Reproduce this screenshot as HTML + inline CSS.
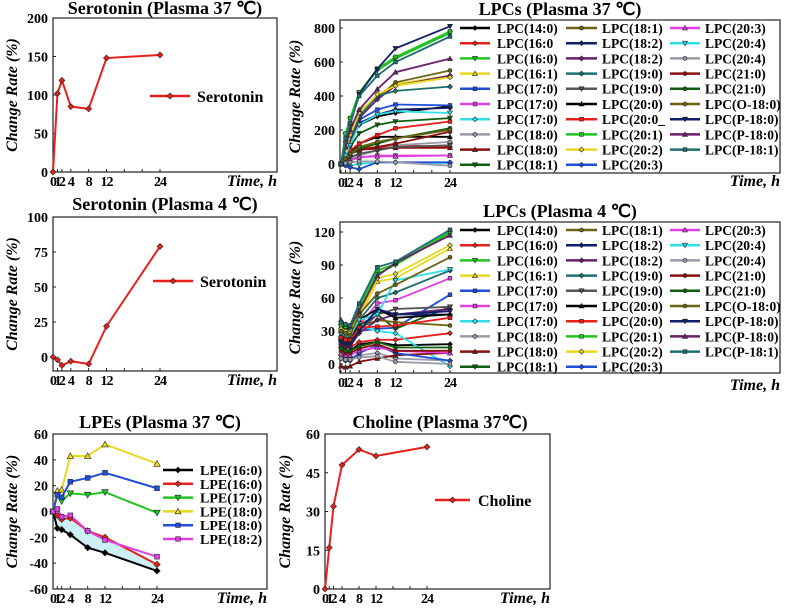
<!DOCTYPE html>
<html><head><meta charset="utf-8">
<style>
html,body{margin:0;padding:0;background:#fff;}
svg{display:block;font-family:"Liberation Serif",serif;font-weight:bold;}
</style></head>
<body>
<svg id="fig" width="787" height="608" viewBox="0 0 787 608" xmlns="http://www.w3.org/2000/svg"></svg>
<script>
// ---- shared data ----
const times = [0,1,2,4,8,12,24];
const xTickLabels = ["0","1","2","4","8","12","24"];
// Serotonin 37
const ser37Values = [0,102,119,85,82,148,152];
const ser37Ticks = [0,50,100,150,200];
// Serotonin 4
const ser4Values = [0,-2,-6,-3,-5,22,79];
const ser4Ticks = [0,25,50,75,100];
// Choline
const cholValues = [0,16,32,48,54,51.5,55];
const cholTicks = [0,15,30,45,60];
// LPEs
const lpeNames = ["LPE(16:0)","LPE(16:0)","LPE(17:0)","LPE(18:0)","LPE(18:0)","LPE(18:2)"];
const lpeColors = ["#000","#e8201c","#22c422","#e8d820","#1f4fd8","#e040e0"];
const lpeMarkers = ["diamond","diamond","dtri","tri","square","square"];
const lpeValues = [
 [0,-13,-14,-18,-28,-32,-46],
 [0,-3,-6,-5,-15,-20,-41],
 [0,13,8,14,13,15,-1],
 [0,16,17,43,43,52,37],
 [0,13,11,23,26,30,18],
 [0,2,-4,-3,-15,-22,-35]
];
const lpeTicks = [-60,-40,-20,0,20,40,60];
// LPCs
const lpcNames37 = ["LPC(14:0)","LPC(16:0","LPC(16:0)","LPC(16:1)","LPC(17:0)","LPC(17:0)","LPC(17:0)","LPC(18:0)","LPC(18:0)","LPC(18:1)",
 "LPC(18:1)","LPC(18:2)","LPC(18:2)","LPC(19:0)","LPC(19:0)","LPC(20:0)","LPC(20:0_","LPC(20:1)","LPC(20:2)","LPC(20:3)",
 "LPC(20:3)","LPC(20:4)","LPC(20:4)","LPC(21:0)","LPC(21:0)","LPC(O-18:0)","LPC(P-18:0)","LPC(P-18:0)","LPC(P-18:1)"];
const lpcNames4 = ["LPC(14:0)","LPC(16:0)","LPC(16:0)","LPC(16:1)","LPC(17:0)","LPC(17:0)","LPC(17:0)","LPC(18:0)","LPC(18:0)","LPC(18:1)",
 "LPC(18:1)","LPC(18:2)","LPC(18:2)","LPC(19:0)","LPC(19:0)","LPC(20:0)","LPC(20:0)","LPC(20:1)","LPC(20:2)","LPC(20:3)",
 "LPC(20:3)","LPC(20:4)","LPC(20:4)","LPC(21:0)","LPC(21:0)","LPC(O-18:0)","LPC(P-18:0)","LPC(P-18:0)","LPC(P-18:1)"];
const lpcColors = ["#000","#e8201c","#22c422","#e8d820","#1f4fd8","#e040e0","#30e0e8","#9a9aa8","#8b0f0f","#0f5f0f",
 "#6b6414","#0f1f6b","#6b206b","#1f6f70","#555","#000","#e8201c","#22c422","#e8d820","#1f4fd8",
 "#e040e0","#30e0e8","#9a9aa8","#8b0f0f","#0f5f0f","#6b6414","#0f1f6b","#6b206b","#1f6f70"];
const lpcMarkers = ["diamond","diamond","dtri","tri","square","square","diamond","diamond","tri","dtri",
 "circle","diamond","diamond","diamond","dtri","tri","square","square","diamond","diamond",
 "tri","dtri","circle","circle","circle","circle","dtri","tri","square"];
const lpc37Values = [
 [0,50,120,230,280,300,340],[0,40,70,90,100,110,100],[0,170,260,420,550,620,770],[0,80,160,290,400,470,520],
 [0,60,140,260,320,350,345],[0,10,20,40,50,50,50],[0,0,-10,0,10,10,5],[0,15,30,50,80,110,130],
 [0,30,60,85,90,95,95],[0,40,100,180,230,250,270],
 [0,90,180,310,390,480,550],[0,50,110,240,290,320,330],[0,60,120,270,380,460,520],[0,70,150,280,400,430,455],
 [0,20,40,60,80,100,110],[0,30,60,120,160,160,160],[0,40,80,120,170,210,250],[0,180,270,420,560,630,780],
 [0,80,170,300,410,460,510],[0,-10,-20,-30,10,10,10],
 [0,10,20,40,45,45,50],[0,50,110,230,290,310,300],[0,5,10,15,15,10,-10],[0,30,60,80,100,120,190],
 [0,30,60,90,120,150,210],[0,30,60,100,130,150,200],[0,120,230,410,560,680,810],[0,100,200,320,440,540,620],
 [0,150,240,400,520,600,750]
];
const lpc37Ticks = [0,200,400,600,800];
const lpc4Values = [
 [15,12,12,18,20,17,18],[15,15,15,20,22,22,28],[34,32,30,50,82,90,119],[30,28,27,42,75,78,105],
 [18,16,16,30,32,33,63],[22,20,20,35,55,58,78],[20,20,30,35,30,28,-2],[8,6,6,8,10,5,3],
 [-2,-3,-2,2,5,8,10],[20,18,18,35,45,32,52],
 [25,24,23,33,40,38,35],[22,20,18,30,48,45,45],[18,16,16,28,40,45,50],[25,22,22,40,60,65,85],
 [20,18,18,30,45,50,52],[25,22,20,40,50,42,45],[24,22,22,33,34,35,42],[35,34,33,52,85,91,120],
 [32,30,28,45,78,82,108],[5,3,3,10,17,10,3],
 [10,8,8,12,15,12,10],[28,26,25,40,45,76,86],[5,4,4,6,7,2,0],[12,10,10,14,18,12,12],
 [14,12,12,16,20,15,15],[30,28,26,45,64,72,97],[20,18,18,30,50,45,48],[40,36,34,48,80,92,117],
 [38,36,35,55,88,93,122]
];
const lpc4Ticks = [0,30,60,90,120];

// ---- drawing helpers ----
const NS = "http://www.w3.org/2000/svg";
const svg = document.getElementById("fig");
function el(tag, attrs, parent){
  const e = document.createElementNS(NS, tag);
  for (const k in attrs) e.setAttribute(k, attrs[k]);
  (parent||svg).appendChild(e);
  return e;
}
function marker(g, type, cx, cy, color, s){
  let m;
  if (type==="circle") m = el("circle",{cx:cx,cy:cy,r:s*0.8},g);
  else if (type==="square") m = el("rect",{x:cx-s*0.75,y:cy-s*0.75,width:s*1.5,height:s*1.5},g);
  else if (type==="tri") m = el("polygon",{points:`${cx},${cy-s} ${cx-s},${cy+s*0.8} ${cx+s},${cy+s*0.8}`},g);
  else if (type==="dtri") m = el("polygon",{points:`${cx},${cy+s} ${cx-s},${cy-s*0.8} ${cx+s},${cy-s*0.8}`},g);
  else m = el("polygon",{points:`${cx},${cy-s} ${cx+s},${cy} ${cx},${cy+s} ${cx-s},${cy}`},g);
  m.setAttribute("fill", color);
  m.setAttribute("stroke", "#222");
  m.setAttribute("stroke-width", "0.6");
  
  
}
function panel(cfg){
  const g = el("g",{});
  
  
  const xs = t => cfg.x0 + t*(cfg.x24-cfg.x0)/24;
  const ys = v => cfg.yA + (v-cfg.vA)*(cfg.yB-cfg.yA)/(cfg.vB-cfg.vA);
  cfg.xs = xs; cfg.ys = ys;
  const t = el("text",{x:cfg.titleX,y:cfg.titleY,"text-anchor":"middle","font-size":18},g);
  t.textContent = cfg.title;
  
  
  const b = el("rect",{x:cfg.L,y:cfg.T,width:cfg.R-cfg.L,height:cfg.B-cfg.T,fill:"none",stroke:"#222","stroke-width":1.2},g);
  
  
  cfg.yTicks.forEach(v=>{
    const y = ys(v);
    el("line",{x1:cfg.L,x2:cfg.L+3,y1:y,y2:y,stroke:"#222"},g);
    const tx = el("text",{x:cfg.L-5,y:y+5,"text-anchor":"end","font-size":14},g);
    tx.textContent = v;
    
    
  });
  times.forEach((tm,i)=>{
    const x = xs(tm);
    el("line",{x1:x,x2:x,y1:cfg.B,y2:cfg.B-3,stroke:"#222"},g);
    const tx = el("text",{x:x,y:cfg.B+14,"text-anchor":"middle","font-size":14,"letter-spacing":"-1"},g);
    tx.textContent = xTickLabels[i];
    
    
  });
  [16,20].forEach(tm=>{ const x=xs(tm); el("line",{x1:x,x2:x,y1:cfg.B,y2:cfg.B-3,stroke:"#222"},g); });
  const yt = el("text",{transform:`translate(${cfg.yLabX},${(cfg.T+cfg.B)/2}) rotate(-90)`,"text-anchor":"middle","font-size":16,"font-style":"italic"},g);
  yt.textContent = "Change Rate (%)";
  
  
  const xt = el("text",{x:cfg.R,y:cfg.xLabY,"text-anchor":"end","font-size":16,"font-style":"italic"},g);
  xt.textContent = "Time, h";
  
  
  return g;
}
function series(g, cfg, vals, color, mk, ms, w){
  const pts = times.map((tm,i)=>cfg.xs(tm)+","+cfg.ys(vals[i])).join(" ");
  const l = el("polyline",{points:pts,fill:"none",stroke:color,"stroke-width":w||2},g);
  
  
  times.forEach((tm,i)=>marker(g,mk,cfg.xs(tm),cfg.ys(vals[i]),color,ms||3));
}
function legendEntry(g, x1, x2, y, tx, label, color, mk, size, ms){
  const l = el("line",{x1:x1,x2:x2,y1:y,y2:y,stroke:color,"stroke-width":2.5},g);
  
  
  marker(g, mk, (x1+x2)/2, y, color, ms||3);
  const t = el("text",{x:tx,y:y+size*0.36,"font-size":size},g);
  t.textContent = label;
  
  
}

// ---- Serotonin 37 ----
const c1 = {name:"serotonin-37-chart",title:"Serotonin (Plasma 37 ℃)",titleX:165,titleY:14,L:53,T:18,R:277,B:172,
  x0:53,x24:160,vA:0,yA:172,vB:200,yB:18,yTicks:ser37Ticks,yLabX:17,xLabY:186};
const g1 = panel(c1);
series(g1,c1,ser37Values,"#e8201c","diamond",3);
legendEntry(g1,150,190,96,197,"Serotonin","#e8201c","diamond",16,3);

// ---- Serotonin 4 ----
const c3 = {name:"serotonin-4-chart",title:"Serotonin (Plasma 4 ℃)",titleX:165,titleY:210,L:53,T:217,R:277,B:371,
  x0:53,x24:160,vA:0,yA:357,vB:100,yB:217,yTicks:ser4Ticks,yLabX:17,xLabY:385};
const g3 = panel(c3);
series(g3,c3,ser4Values,"#e8201c","diamond",3);
legendEntry(g3,153,193,281,200,"Serotonin","#e8201c","diamond",16,3);

// ---- LPC 37 ----
const c2 = {name:"lpc-37-chart",title:"LPCs (Plasma 37 ℃)",titleX:560,titleY:15,L:340,T:20,R:780,B:173,
  x0:341,x24:450,vA:0,yA:164,vB:800,yB:28,yTicks:lpc37Ticks,yLabX:300,xLabY:186};
const g2 = panel(c2);
lpc37Values.forEach((v,i)=>series(g2,c2,v,lpcColors[i],lpcMarkers[i],2.5,1.8));
const colX = [[460,490,497],[566,597,602],[670,700,705]];
lpcNames37.forEach((n,i)=>{const c=colX[Math.floor(i/10)]; legendEntry(g2,c[0],c[1],28+(i%10)*15.2,c[2],n,lpcColors[i],lpcMarkers[i],13.5,2.5);});

// ---- LPC 4 ----
const c4 = {name:"lpc-4-chart",title:"LPCs (Plasma 4 ℃)",titleX:560,titleY:217,L:340,T:222,R:780,B:373,
  x0:341,x24:450,vA:0,yA:364,vB:120,yB:232,yTicks:lpc4Ticks,yLabX:300,xLabY:390};
const g4 = panel(c4);
lpc4Values.forEach((v,i)=>series(g4,c4,v,lpcColors[i],lpcMarkers[i],2.5,1.8));
lpcNames4.forEach((n,i)=>{const c=colX[Math.floor(i/10)]; legendEntry(g4,c[0],c[1],230+(i%10)*15.2,c[2],n,lpcColors[i],lpcMarkers[i],13.5,2.5);});

// ---- LPE ----
const c5 = {name:"lpe-37-chart",title:"LPEs (Plasma 37 ℃)",titleX:160,titleY:428,L:53,T:434,R:267,B:589,
  x0:53,x24:157,vA:-60,yA:589,vB:60,yB:434,yTicks:lpeTicks,yLabX:17,xLabY:603};
const g5 = panel(c5);
const fillPts = times.map((tm,i)=>c5.xs(tm)+","+c5.ys(lpeValues[0][i])).concat(times.slice().reverse().map((tm,j)=>{const i=times.length-1-j;return c5.xs(tm)+","+c5.ys(lpeValues[1][i]);})).join(" ");
const fillArea = el("polygon",{points:fillPts,fill:"#cdf0f5"},g5);


lpeValues.forEach((v,i)=>series(g5,c5,v,lpeColors[i],lpeMarkers[i],3.2,2));
lpeNames.forEach((n,i)=>legendEntry(g5,163,193,470+i*13.8,200,n,lpeColors[i],lpeMarkers[i],14,3));

// ---- Choline ----
const c6 = {name:"choline-37-chart",title:"Choline (Plasma 37℃)",titleX:440,titleY:428,L:325,T:434,R:550,B:589,
  x0:325,x24:427,vA:0,yA:589,vB:60,yB:434,yTicks:cholTicks,yLabX:290,xLabY:603};
const g6 = panel(c6);
series(g6,c6,cholValues,"#e8201c","diamond",3);
legendEntry(g6,435,470,500,478,"Choline","#e8201c","diamond",16,3);
</script>
</body></html>
